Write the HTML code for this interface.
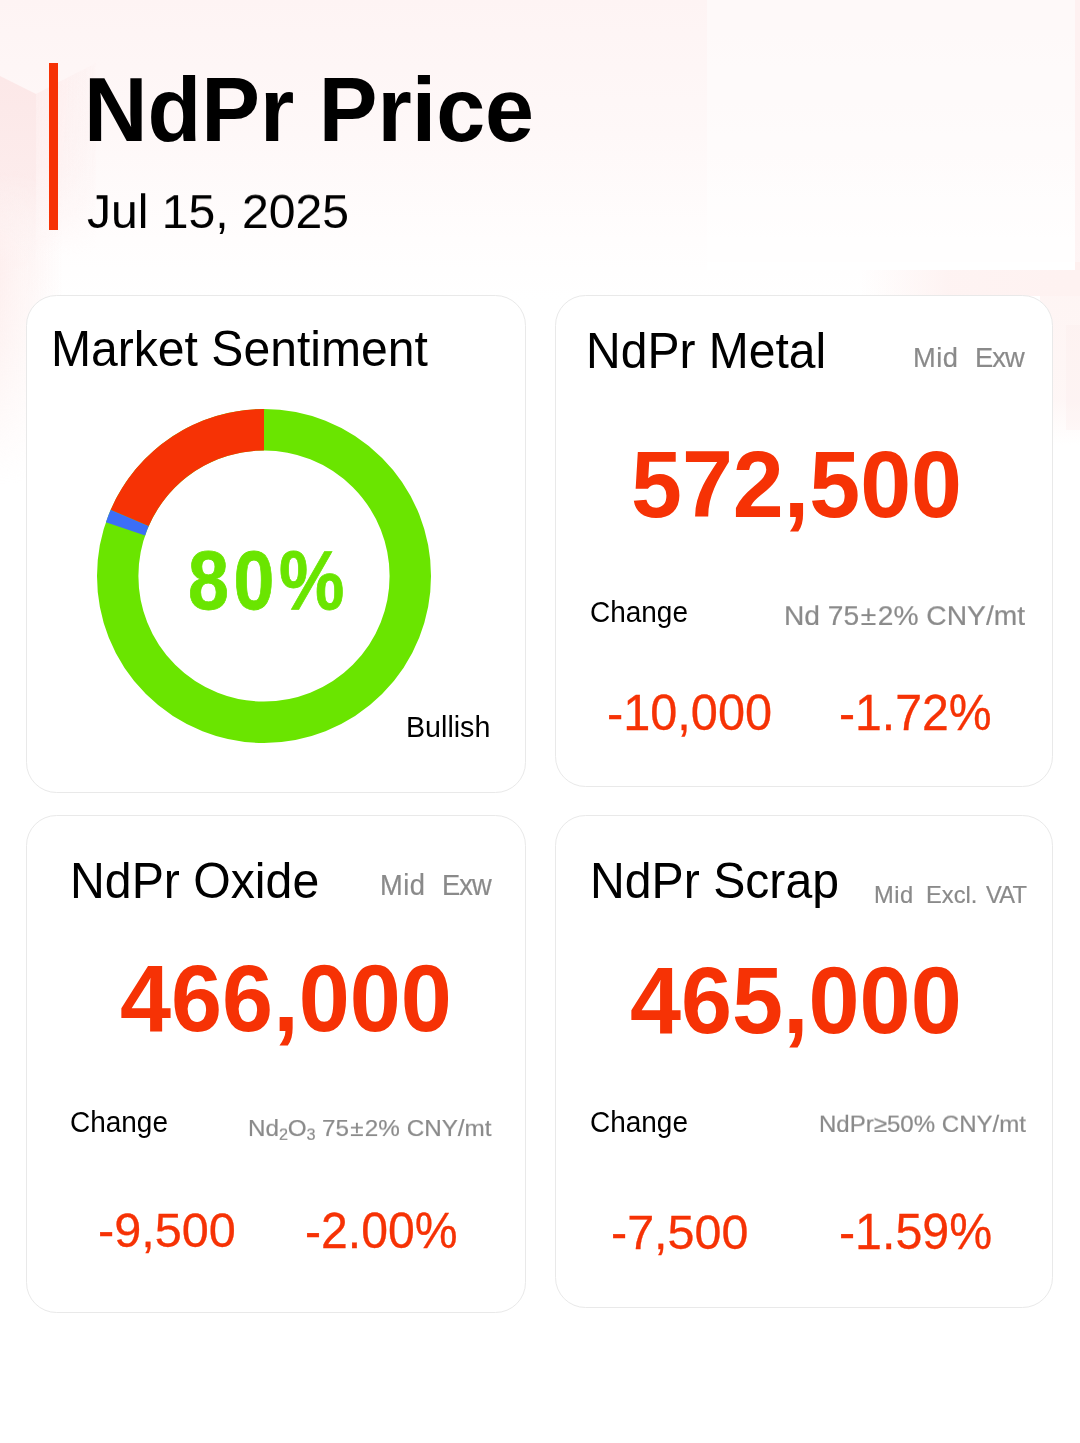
<!DOCTYPE html>
<html>
<head>
<meta charset="utf-8">
<style>
html,body{margin:0;padding:0;}
body{width:1080px;height:1443px;position:relative;overflow:hidden;background:#ffffff;font-family:"Liberation Sans",sans-serif;color:#000;}
.bg{position:absolute;left:0;top:0;width:1080px;height:500px;}
.t{position:absolute;white-space:nowrap;line-height:1;transform-origin:0 84.67%;will-change:transform;}
.sb{font-size:0.67em;position:relative;top:0.235em;line-height:0;letter-spacing:-0.4px;}
.pm{margin:0 0.055em;}
.card{position:absolute;background:#fff;border:1.4px solid #e9e9e9;border-radius:30.5px;box-sizing:border-box;}
.bar{position:absolute;left:49px;top:62.5px;width:8.7px;height:167.5px;background:#f63205;}
</style>
</head>
<body>
<svg class="bg" width="1080" height="500" viewBox="0 0 1080 500">
 <defs>
  <linearGradient id="g0" x1="0" y1="0" x2="0" y2="1">
   <stop offset="0" stop-color="#fef4f4"/><stop offset="0.45" stop-color="#fef8f8"/><stop offset="0.8" stop-color="#fffdfd"/><stop offset="1" stop-color="#ffffff"/>
  </linearGradient>
  <linearGradient id="g1" gradientUnits="userSpaceOnUse" x1="0" y1="76" x2="0" y2="270">
   <stop offset="0" stop-color="#fce8e8" stop-opacity="1"/><stop offset="0.5" stop-color="#fce8e8" stop-opacity="0.8"/><stop offset="1" stop-color="#fce8e8" stop-opacity="0"/>
  </linearGradient>
  <linearGradient id="g6" gradientUnits="userSpaceOnUse" x1="0" y1="0" x2="64" y2="0">
   <stop offset="0" stop-color="#fdeceb" stop-opacity="0.8"/><stop offset="0.4" stop-color="#fdeeed" stop-opacity="0.55"/><stop offset="1" stop-color="#fdeeed" stop-opacity="0"/>
  </linearGradient>
  <linearGradient id="gm2" gradientUnits="userSpaceOnUse" x1="0" y1="170" x2="0" y2="485">
   <stop offset="0" stop-color="#000"/><stop offset="0.3" stop-color="#fff"/><stop offset="0.55" stop-color="#bbb"/><stop offset="1" stop-color="#000"/>
  </linearGradient>
  <mask id="mk2" maskUnits="userSpaceOnUse" x="0" y="170" width="70" height="320"><rect x="0" y="170" width="70" height="315" fill="url(#gm2)"/></mask>
  <linearGradient id="g5" gradientUnits="userSpaceOnUse" x1="0" y1="262" x2="0" y2="445">
   <stop offset="0" stop-color="#fef3f2" stop-opacity="0.9"/><stop offset="0.75" stop-color="#fef3f2" stop-opacity="0.7"/><stop offset="1" stop-color="#fef3f2" stop-opacity="0"/>
  </linearGradient>
  <linearGradient id="g2" x1="0" y1="0" x2="1" y2="0">
   <stop offset="0" stop-color="#fdecec" stop-opacity="0.85"/><stop offset="0.45" stop-color="#fdecec" stop-opacity="0.6"/><stop offset="1" stop-color="#fdecec" stop-opacity="0.12"/>
  </linearGradient>
  <linearGradient id="g4" x1="0" y1="0" x2="1" y2="0">
   <stop offset="0" stop-color="#fef2f1" stop-opacity="0"/><stop offset="0.4" stop-color="#fef2f1" stop-opacity="0.9"/><stop offset="1" stop-color="#fef2f1" stop-opacity="1"/>
  </linearGradient>
  <linearGradient id="gm" x1="0" y1="0" x2="0" y2="1">
   <stop offset="0" stop-color="#fff"/><stop offset="0.55" stop-color="#ccc"/><stop offset="1" stop-color="#000"/>
  </linearGradient>
  <mask id="mk" maskUnits="userSpaceOnUse" x="0" y="60" width="120" height="200"><rect x="0" y="60" width="120" height="195" fill="url(#gm)"/></mask>
  <linearGradient id="g3" x1="0" y1="0" x2="0" y2="1">
   <stop offset="0" stop-color="#fff" stop-opacity="0"/><stop offset="0.5" stop-color="#fff" stop-opacity="0.1"/><stop offset="1" stop-color="#fff" stop-opacity="1"/>
  </linearGradient>
 </defs>
 <rect x="0" y="0" width="1080" height="300" fill="url(#g0)"/>
 <polygon points="0,76 36,94 36,270 0,270" fill="url(#g1)"/>
 <g mask="url(#mk2)"><rect x="0" y="170" width="64" height="315" fill="url(#g6)"/></g>
 <g mask="url(#mk)"><polygon points="36,94 96,63 96,255 36,255" fill="url(#g2)"/></g>
 <rect x="1040" y="262" width="40" height="185" fill="url(#g5)"/>
 <rect x="1066" y="325" width="14" height="105" fill="#fdeceb" fill-opacity="0.3"/>
 <rect x="860" y="262" width="220" height="34" fill="url(#g4)"/>
 <rect x="1075" y="0" width="5" height="270" fill="#fdeeee" fill-opacity="0.6"/>
 <rect x="707" y="0" width="368" height="270" fill="#ffffff" fill-opacity="0.42"/>
 <rect x="707" y="262" width="368" height="8" fill="#ffffff" fill-opacity="0.9"/>
</svg>
<div class="bar"></div>

<div class="card" style="left:26px;top:294.5px;width:499.5px;height:498.4px;"></div>
<div class="card" style="left:554.7px;top:294.5px;width:498.7px;height:492.6px;"></div>
<div class="card" style="left:26px;top:814.9px;width:499.5px;height:498.6px;"></div>
<div class="card" style="left:554.7px;top:814.9px;width:498.7px;height:493px;"></div>

<svg style="position:absolute;left:88.8px;top:400.8px;" width="350" height="350" viewBox="-175 -175 350 350">
  <circle cx="0" cy="0" r="146.3" fill="none" stroke="#6ae500" stroke-width="41.4"/>
  <path d="M-158.09 -53.82 A167 167 0 0 1 -153.27 -66.32 L-115.27 -49.88 A125.6 125.6 0 0 0 -118.90 -40.48 Z" fill="#3c6ef7"/>
  <path d="M-153.27 -66.32 A167 167 0 0 1 0 -167 L0 -125.6 A125.6 125.6 0 0 0 -115.27 -49.88 Z" fill="#f63205"/>
</svg>

<div class="t" id="title" style="left:83.71px;top:66.87px;font-size:88.02px;color:#000000;font-weight:bold;transform:scaleY(1.0418);">NdPr Price</div>
<div class="t" id="date" style="left:86.80px;top:187.37px;font-size:48.10px;color:#000000;transform:scaleY(0.9938);">Jul 15, 2025</div>
<div class="t" id="c1t" style="left:50.56px;top:325.07px;font-size:48.10px;color:#000000;transform:scaleY(1.0396);">Market Sentiment</div>
<div class="t" id="pct" style="left:188.46px;top:547.07px;font-size:73.50px;color:#6ae500;font-weight:bold;letter-spacing:4.59px;-webkit-text-stroke:0.7px #6ae500;transform:scaleY(1.1337);">80%</div>
<div class="t" id="bull" style="left:405.93px;top:712.74px;font-size:28.65px;color:#000000;transform:scaleY(1.0195);">Bullish</div>
<div class="t" id="c2t" style="left:585.57px;top:327.63px;font-size:48.03px;color:#000000;transform:scaleY(1.0324);">NdPr Metal</div>
<div class="t" id="c2m1" style="left:913.02px;top:344.29px;font-size:27.30px;color:#8a8a8a;letter-spacing:0.45px;-webkit-text-stroke:0.2px #8a8a8a;transform:scaleY(1.0437);">Mid</div>
<div class="t" id="c2m2" style="left:974.63px;top:344.29px;font-size:27.30px;color:#8a8a8a;letter-spacing:-0.93px;-webkit-text-stroke:0.2px #8a8a8a;transform:scaleY(1.0437);">Exw</div>
<div class="t" id="c2p" style="left:630.76px;top:439.67px;font-size:91.57px;color:#f63205;font-weight:bold;transform:scaleY(1.0279);">572,500</div>
<div class="t" id="c2c" style="left:589.68px;top:598.51px;font-size:27.98px;color:#000000;transform:scaleY(1.0232);">Change</div>
<div class="t" id="c2u" style="left:784.39px;top:601.13px;font-size:28.19px;color:#8a8a8a;-webkit-text-stroke:0.2px #8a8a8a;transform:scaleY(0.9874);">Nd 75<span class="pm">±</span>2% CNY/mt</div>
<div class="t" id="c2a" style="left:607.48px;top:688.98px;font-size:48.68px;color:#f63205;-webkit-text-stroke:0.3px #f63205;transform:scaleY(1.0243);">-10,000</div>
<div class="t" id="c2b" style="left:838.71px;top:688.88px;font-size:48.21px;color:#f63205;-webkit-text-stroke:0.3px #f63205;transform:scaleY(1.0322);">-1.72%</div>
<div class="t" id="c3t" style="left:70.04px;top:857.07px;font-size:48.22px;color:#000000;transform:scaleY(1.0315);">NdPr Oxide</div>
<div class="t" id="c3m1" style="left:379.97px;top:871.99px;font-size:27.30px;color:#8a8a8a;letter-spacing:0.43px;-webkit-text-stroke:0.2px #8a8a8a;transform:scaleY(1.0648);">Mid</div>
<div class="t" id="c3m2" style="left:441.84px;top:871.99px;font-size:27.30px;color:#8a8a8a;letter-spacing:-0.91px;-webkit-text-stroke:0.2px #8a8a8a;transform:scaleY(1.0648);">Exw</div>
<div class="t" id="c3p" style="left:120.25px;top:953.67px;font-size:91.80px;color:#f63205;font-weight:bold;transform:scaleY(1.0387);">466,000</div>
<div class="t" id="c3c" style="left:69.68px;top:1108.51px;font-size:27.98px;color:#000000;transform:scaleY(1.0232);">Change</div>
<div class="t" id="c3u" style="left:248.31px;top:1116.17px;font-size:24.25px;color:#8a8a8a;-webkit-text-stroke:0.2px #8a8a8a;transform:scaleY(0.9465);">Nd<span class="sb">2</span>O<span class="sb">3</span> 75<span class="pm">±</span>2% CNY/mt</div>
<div class="t" id="c3a" style="left:97.69px;top:1206.43px;font-size:48.62px;color:#f63205;-webkit-text-stroke:0.3px #f63205;">-9,500</div>
<div class="t" id="c3b" style="left:305.04px;top:1206.84px;font-size:48.14px;color:#f63205;-webkit-text-stroke:0.3px #f63205;transform:scaleY(1.0250);">-2.00%</div>
<div class="t" id="c4t" style="left:590.05px;top:857.11px;font-size:48.18px;color:#000000;transform:scaleY(1.0318);">NdPr Scrap</div>
<div class="t" id="c4m1" style="left:873.84px;top:883.73px;font-size:23.70px;color:#8a8a8a;letter-spacing:0.48px;-webkit-text-stroke:0.2px #8a8a8a;transform:scaleY(1.0435);">Mid</div>
<div class="t" id="c4m2" style="left:925.62px;top:883.73px;font-size:23.70px;color:#8a8a8a;letter-spacing:0.01px;-webkit-text-stroke:0.2px #8a8a8a;transform:scaleY(1.0435);">Excl.</div>
<div class="t" id="c4m3" style="left:985.50px;top:883.73px;font-size:23.70px;color:#8a8a8a;letter-spacing:-0.81px;-webkit-text-stroke:0.2px #8a8a8a;transform:scaleY(1.0435);">VAT</div>
<div class="t" id="c4p" style="left:630.18px;top:955.92px;font-size:91.75px;color:#f63205;font-weight:bold;transform:scaleY(1.0366);">465,000</div>
<div class="t" id="c4c" style="left:589.68px;top:1108.51px;font-size:27.98px;color:#000000;transform:scaleY(1.0232);">Change</div>
<div class="t" id="c4u" style="left:819.28px;top:1111.84px;font-size:24.05px;color:#8a8a8a;-webkit-text-stroke:0.2px #8a8a8a;transform:scaleY(0.9649);">NdPr≥50% CNY/mt</div>
<div class="t" id="c4a" style="left:610.82px;top:1208.23px;font-size:48.50px;color:#f63205;-webkit-text-stroke:0.3px #f63205;transform:scaleY(1.0080);">-7,500</div>
<div class="t" id="c4b" style="left:838.98px;top:1208.38px;font-size:48.33px;color:#f63205;-webkit-text-stroke:0.3px #f63205;transform:scaleY(1.0142);">-1.59%</div>

</body>
</html>
